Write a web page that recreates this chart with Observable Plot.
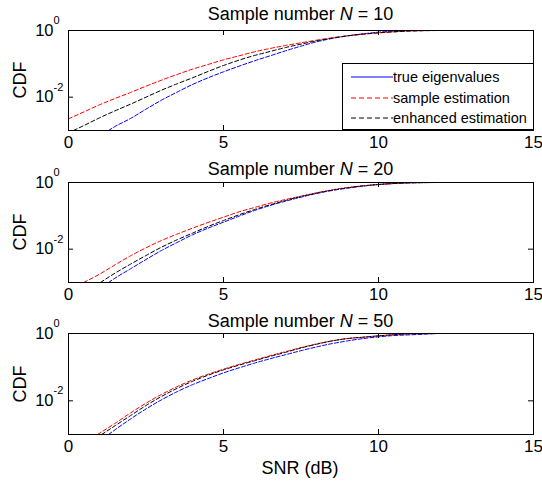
<!DOCTYPE html>
<html>
<head>
<meta charset="utf-8">
<script src="https://cdn.jsdelivr.net/npm/d3@7"></script>
<script src="https://cdn.jsdelivr.net/npm/@observablehq/plot@0.6"></script>
<style>
  body { margin: 0; background: white; }
  #chart { position: relative; width: 542px; height: 481px; background: white; font-family: "Liberation Sans", Arial, sans-serif; color: black; overflow: hidden; }
  .panel { position: absolute; left: 0; }
  .title { position: absolute; left: 68px; width: 465px; text-align: center; font-size: 18px; line-height: 20px; white-space: nowrap; }
  .ylab { position: absolute; left: 20px; font-size: 18px; line-height: 20px; transform: translate(-50%, -50%) rotate(-90deg); white-space: nowrap; }
  .xlab { position: absolute; left: 200px; width: 200px; text-align: center; font-size: 18px; line-height: 20px; top: 458px; }
  .legend { position: absolute; left: 342px; top: 63px; width: 190px; height: 65px; border: 1px solid black; background: white; font-size: 14.5px; }
  .legend .row { position: absolute; left: 7px; height: 20px; display: flex; align-items: center; white-space: nowrap; }
  .legend svg { display: block; }
</style>
</head>
<body>
<div id="chart"></div>
<script>
// ---- data (SNR in dB, CDF stored as log10 values) ----
const titles = ["10", "20", "50"];
const seriesNames = ["true eigenvalues", "sample estimation", "enhanced estimation"];
const seriesColors = ["#0000ff", "#ff0000", "#000000"];
const xTicks = [0, 5, 10, 15];
const yTicks = [1, 0.01];
const yTickExp = ["0", "-2"];

// N = 10
const n10_true_snr = [1.29, 1.5, 2, 2.5, 3, 3.5, 4, 4.5, 5, 5.5, 6, 6.5, 7, 7.5, 8, 8.5, 9, 9.5, 10, 10.5, 11, 12, 15];
const n10_true_log = [-3, -2.88, -2.64, -2.36, -2.09, -1.85, -1.62, -1.42, -1.24, -1.07, -0.91, -0.76, -0.61, -0.47, -0.34, -0.24, -0.16, -0.10, -0.05, -0.02, -0.005, 0, 0];
const n10_sample_snr = [0, 0.5, 1, 1.5, 2, 2.5, 3, 3.5, 4, 4.5, 5, 5.5, 6, 6.5, 7, 7.5, 8, 8.5, 9, 9.5, 10, 10.5, 11, 12, 15];
const n10_sample_log = [-2.65, -2.44, -2.23, -2.04, -1.86, -1.67, -1.49, -1.32, -1.16, -1.02, -0.88, -0.76, -0.64, -0.54, -0.45, -0.37, -0.29, -0.22, -0.16, -0.11, -0.07, -0.04, -0.015, 0, 0];
const n10_enh_snr = [0.16, 0.5, 1, 1.5, 2, 2.5, 3, 3.5, 4, 4.5, 5, 5.5, 6, 6.5, 7, 7.5, 8, 8.5, 9, 9.5, 10, 10.5, 11, 12, 15];
const n10_enh_log = [-3, -2.85, -2.62, -2.41, -2.21, -2.0, -1.79, -1.60, -1.42, -1.23, -1.05, -0.89, -0.75, -0.63, -0.51, -0.41, -0.31, -0.23, -0.16, -0.11, -0.07, -0.04, -0.015, 0, 0];

// N = 20
const n20_true_snr = [1.29, 1.5, 2, 2.5, 3, 3.5, 4, 4.5, 5, 5.5, 6, 6.5, 7, 7.5, 8, 8.5, 9, 9.5, 10, 10.5, 11, 12, 15];
const n20_true_log = [-3, -2.87, -2.59, -2.31, -2.04, -1.80, -1.57, -1.37, -1.19, -1.01, -0.84, -0.69, -0.56, -0.44, -0.33, -0.24, -0.17, -0.11, -0.06, -0.03, -0.01, 0, 0];
const n20_sample_snr = [0.49, 1, 1.5, 2, 2.5, 3, 3.5, 4, 4.5, 5, 5.5, 6, 6.5, 7, 7.5, 8, 8.5, 9, 9.5, 10, 10.5, 11, 12, 15];
const n20_sample_log = [-3, -2.75, -2.47, -2.20, -1.96, -1.74, -1.55, -1.37, -1.20, -1.04, -0.88, -0.75, -0.62, -0.51, -0.41, -0.31, -0.22, -0.15, -0.10, -0.06, -0.03, -0.01, 0, 0];
const n20_enh_snr = [1.03, 1.5, 2, 2.5, 3, 3.5, 4, 4.5, 5, 5.5, 6, 6.5, 7, 7.5, 8, 8.5, 9, 9.5, 10, 10.5, 11, 12, 15];
const n20_enh_log = [-3, -2.72, -2.45, -2.19, -1.94, -1.72, -1.52, -1.32, -1.14, -0.97, -0.81, -0.67, -0.54, -0.42, -0.32, -0.23, -0.16, -0.10, -0.06, -0.03, -0.01, 0, 0];

// N = 50
const n50_true_snr = [1.29, 1.5, 2, 2.5, 3, 3.5, 4, 4.5, 5, 5.5, 6, 6.5, 7, 7.5, 8, 8.5, 9, 9.5, 10, 10.5, 11, 11.5, 12, 15];
const n50_true_log = [-3, -2.86, -2.54, -2.24, -1.97, -1.73, -1.52, -1.34, -1.17, -1.02, -0.88, -0.75, -0.63, -0.51, -0.40, -0.30, -0.22, -0.15, -0.10, -0.06, -0.04, -0.02, 0, 0];
const n50_sample_snr = [0.94, 1.5, 2, 2.5, 3, 3.5, 4, 4.5, 5, 5.5, 6, 6.5, 7, 7.5, 8, 8.5, 9, 9.5, 10, 10.5, 11, 12, 15];
const n50_sample_log = [-3, -2.67, -2.36, -2.07, -1.81, -1.58, -1.38, -1.21, -1.06, -0.92, -0.79, -0.66, -0.54, -0.42, -0.31, -0.22, -0.15, -0.11, -0.07, -0.035, -0.01, 0, 0];
const n50_enh_snr = [1.07, 1.5, 2, 2.5, 3, 3.5, 4, 4.5, 5, 5.5, 6, 6.5, 7, 7.5, 8, 8.5, 9, 9.5, 10, 10.5, 11, 12, 15];
const n50_enh_log = [-3, -2.74, -2.44, -2.14, -1.87, -1.63, -1.42, -1.24, -1.08, -0.94, -0.81, -0.68, -0.56, -0.43, -0.32, -0.22, -0.15, -0.11, -0.07, -0.035, -0.01, 0, 0];

const panelsData = [
  [[n10_true_snr, n10_true_log], [n10_sample_snr, n10_sample_log], [n10_enh_snr, n10_enh_log]],
  [[n20_true_snr, n20_true_log], [n20_sample_snr, n20_sample_log], [n20_enh_snr, n20_enh_log]],
  [[n50_true_snr, n50_true_log], [n50_sample_snr, n50_sample_log], [n50_enh_snr, n50_enh_log]]
];

// ---- layout ----
const W = 542;
const panelTops = [0, 152, 303];
const panelHeights = [160, 160, 161];
const titleTops = [4, 159, 311];
const mL = 68, mR = 9, mT = 30, mB = 30;
const dashes = ["4,2", "4,2.5", "4,2.5"];

const chart = document.getElementById("chart");

panelsData.forEach((series, pi) => {
  const H = panelHeights[pi];
  const innerW = W - mL - mR;
  const innerH = H - mT - mB;
  const lineMarks = series.map(([snr, lg], si) => {
    const rows = snr.map((s, i) => ({snr: s, cdf: Math.pow(10, lg[i])}));
    return Plot.line(rows, {x: "snr", y: "cdf", stroke: seriesColors[si], strokeWidth: 1, strokeDasharray: dashes[si], curve: "monotone-x"});
  });
  const svg = Plot.plot({
    width: W,
    height: H,
    marginLeft: mL, marginRight: mR, marginTop: mT, marginBottom: mB,
    style: {fontFamily: '"Liberation Sans", Arial, sans-serif', color: "black", background: "transparent", overflow: "visible"},
    x: {domain: [0, 15], axis: null},
    y: {type: "log", domain: [1e-3, 1], axis: null},
    marks: [
      ...lineMarks,
      Plot.frame({stroke: "black", strokeWidth: 1}),
      Plot.tickX(xTicks, {x: d => d, insetTop: innerH - 5, stroke: "black"}),
      Plot.tickX(xTicks, {x: d => d, insetBottom: innerH - 5, stroke: "black"}),
      Plot.tickY(yTicks, {y: d => d, insetRight: innerW - 5, stroke: "black"}),
      Plot.tickY(yTicks, {y: d => d, insetLeft: innerW - 5, stroke: "black"}),
      Plot.text(xTicks, {x: d => d, text: d => String(d), frameAnchor: "bottom", lineAnchor: "top", dy: 5, fontSize: 17}),
      Plot.text(yTicks, {y: d => d, text: () => "10", frameAnchor: "left", textAnchor: "end", lineAnchor: "middle", dx: -15, fontSize: 16.5}),
      Plot.text(yTicks, {y: d => d, text: (d, i) => yTickExp[i], frameAnchor: "left", textAnchor: "start", lineAnchor: "middle", dx: -15, dy: -10, fontSize: 11})
    ]
  });
  svg.classList.add("panel");
  svg.style.top = panelTops[pi] + "px";
  chart.appendChild(svg);

  const t = document.createElement("div");
  t.className = "title";
  t.style.top = titleTops[pi] + "px";
  t.innerHTML = "Sample number <i>N</i> = " + titles[pi];
  chart.appendChild(t);

  const yl = document.createElement("div");
  yl.className = "ylab";
  yl.style.top = (panelTops[pi] + mT + innerH / 2) + "px";
  yl.textContent = "CDF";
  chart.appendChild(yl);
});

const xl = document.createElement("div");
xl.className = "xlab";
xl.textContent = "SNR (dB)";
chart.appendChild(xl);

// legend
const lg = document.createElement("div");
lg.className = "legend";
const legendDash = [null, "5,3", "5,3"];
seriesNames.forEach((name, i) => {
  const row = document.createElement("div");
  row.className = "row";
  row.style.top = (3 + i * 20.5) + "px";
  row.innerHTML = `<svg width="43" height="20"><line x1="1" y1="10" x2="43" y2="10" stroke="${seriesColors[i]}" stroke-width="1" ${legendDash[i] ? `stroke-dasharray="${legendDash[i]}"` : ""}/></svg><span>${name}</span>`;
  lg.appendChild(row);
});
chart.appendChild(lg);
</script>
</body>
</html>
